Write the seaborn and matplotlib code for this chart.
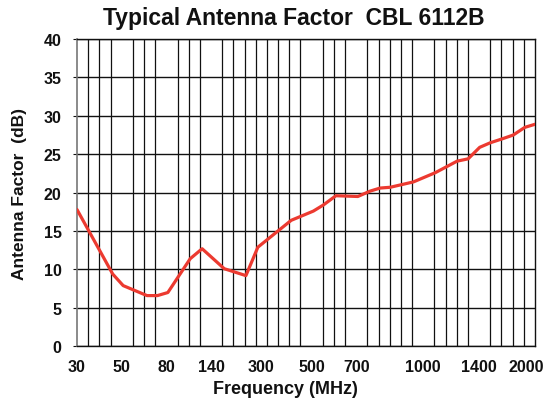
"""
Typical Antenna Factor CBL 6112B - datasheet style chart
"""
import numpy as np
import pandas as pd
import matplotlib
matplotlib.use("Agg")
import matplotlib.pyplot as plt
from matplotlib.transforms import ScaledTranslation
import seaborn as sns

# ---------------------- data ----------------------
freq_mhz = [30, 46, 51, 67, 74, 82, 112, 128, 182, 251, 289, 419, 508, 553, 609,
            707, 762, 807, 852, 956, 1086, 1242, 1321, 1406, 1521, 1647, 1766, 1891, 2000]
antenna_factor = [17.8, 9.4, 7.9, 6.6, 6.6, 7.0, 11.4, 12.7, 10.1, 9.2, 12.9, 16.4, 17.6, 18.4, 19.6,
                  19.5, 20.2, 20.6, 20.7, 21.4, 22.6, 24.1, 24.4, 25.9, 26.5, 27.0, 27.5, 28.5, 28.9]

tick_freq = [30, 50, 80, 140, 300, 500, 700, 1000, 1400, 2000]
tick_pos = [0, 4, 8, 12, 16.5, 21, 25, 31, 36, 41]   # position on the chart grid (41 steps)
y_ticks = [0, 5, 10, 15, 20, 25, 30, 35, 40]

df = pd.DataFrame({"freq": freq_mhz, "af": antenna_factor})

# ---------------------- style ----------------------
sns.set_style("white")
plt.rcParams['font.family'] = ['Liberation Sans', 'DejaVu Sans']
plt.rcParams['font.weight'] = 'bold'
plt.rcParams['text.color'] = '#111111'
plt.rcParams['axes.labelcolor'] = '#111111'
plt.rcParams['xtick.color'] = '#111111'
plt.rcParams['ytick.color'] = '#111111'


# piecewise scale of the printed chart (not a true log axis)
def fwd(x):
    return np.interp(x, tick_freq, tick_pos)


def inv(u):
    return np.interp(u, tick_pos, tick_freq)


fig = plt.figure(figsize=(5.5, 4.02), dpi=100)
ax = fig.add_axes([77 / 550, 1 - 347.3 / 402, (535 - 77) / 550, (347.3 - 40) / 402])
ax.set_xscale('function', functions=(fwd, inv))

sns.lineplot(data=df, x="freq", y="af", color="#ec3a30", linewidth=2.3, ax=ax, zorder=5)

ax.set_xlim(30, 2000)
ax.set_ylim(0, 40)

# grid: 41 equal steps across, every 5 dB up
ax.set_xticks(tick_freq)
ax.set_xticklabels([str(t) for t in tick_freq])
ax.set_xticks(inv(np.arange(0, 42)), minor=True)
ax.xaxis.set_minor_formatter(matplotlib.ticker.NullFormatter())
ax.set_yticks(y_ticks)
ax.set_yticklabels([str(t) for t in y_ticks])

ax.grid(False)
ax.grid(True, which='minor', axis='x', color='#111111', linewidth=0.9)
ax.grid(True, which='major', axis='y', color='#111111', linewidth=1.0)

ax.tick_params(axis='x', which='major', length=0, pad=9, labelsize=11.5)
ax.tick_params(axis='x', which='minor', direction='inout', length=6, width=0.8, color='#111111')
ax.tick_params(axis='y', which='major', direction='out', length=3, width=0.8, pad=8,
               labelsize=11.5, left=True, color='#111111')

# last label sits a bit inside the right edge, as in the print
lbl = ax.get_xticklabels()[-1]
lbl.set_transform(lbl.get_transform() + ScaledTranslation(-6 / 72, 0, fig.dpi_scale_trans))

for side in ['top', 'right', 'bottom']:
    ax.spines[side].set_color('#111111')
    ax.spines[side].set_linewidth(1.0)
ax.spines['left'].set_color('#777777')
ax.spines['left'].set_linewidth(1.2)

ax.set_xlabel("Frequency (MHz)", fontsize=13, fontweight='bold')
ax.xaxis.set_label_coords((285 - 77) / (535 - 77), -(390 - 347.3) / (347.3 - 40))
ax.xaxis.label.set_va('center')
ax.set_ylabel("Antenna Factor  (dB)", fontsize=12.5, fontweight='bold', labelpad=12)

fig.text(294 / 550, 1 - 18 / 402, "Typical Antenna Factor  CBL 6112B",
         ha='center', va='center', fontsize=16.5, fontweight='bold')

fig.savefig("out.png", dpi=100)
plt.close(fig)
